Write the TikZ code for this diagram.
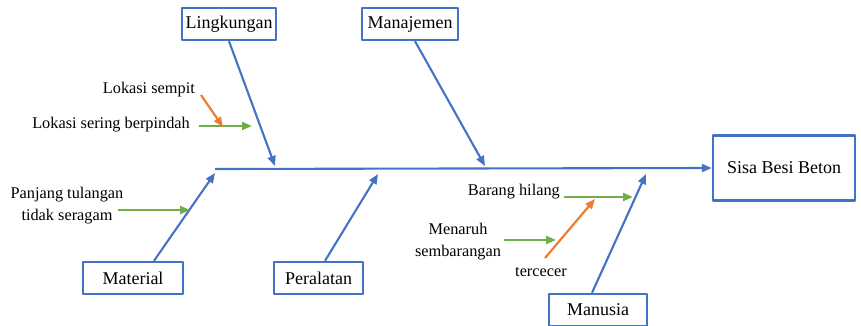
\documentclass[tikz,border=0pt]{standalone}
\usepackage{fontspec}
\setmainfont{Liberation Serif}
\usetikzlibrary{arrows.meta}
\definecolor{fishblue}{RGB}{68,114,196}
\definecolor{subgreen}{RGB}{112,173,71}
\definecolor{suborange}{RGB}{237,125,49}
\begin{document}
\begin{tikzpicture}[x=1pt,y=-1pt, font=\fontsize{16.3}{22}\selectfont, >={Triangle[length=10pt,width=8pt]}, line join=round,
	kategori/.style={draw=fishblue, line width=2.4pt, minimum height=32pt, inner sep=0pt, font=\fontsize{18}{20}\selectfont},
	tulang/.style={->, draw=fishblue, line width=2.1pt},
	sebab/.style={->, draw=subgreen, line width=2.2pt},
	subsebab/.style={->, draw=suborange, line width=2.2pt}]
	\useasboundingbox (0,0) rectangle (861,326);
	% kategori
	\node[kategori, minimum width=94pt] (ling) at (229,24) {Lingkungan};
	\node[kategori, minimum width=96pt] (manaj) at (410,24) {Manajemen};
	\node[kategori, minimum width=100pt] (mat) at (133,278) {Material};
	\node[kategori, minimum width=89pt] (peral) at (318.5,278) {Peralatan};
	\node[kategori, minimum width=98pt] (manus) at (598,310) {Manusia};
	\node[kategori, minimum width=142pt, minimum height=65pt] (sisa) at (784,168) {Sisa Besi Beton};
	% titik pada tulang
	\path
	(215,169) coordinate (ekor)
	(275,166) coordinate (L)
	(485,166) coordinate (M)
	(215,173) coordinate (Ma)
	(378,174) coordinate (P)
	(646,174) coordinate (Mn)
	(199,126) coordinate (lsb0) (252,126) coordinate (lsb1)
	(201,95) coordinate (ls0) (223,127) coordinate (ls1)
	(118,210) coordinate (pt0) (190,210) coordinate (pt1)
	(564,197) coordinate (bh0) (633,197) coordinate (bh1)
	(504,240) coordinate (ms0) (556,240) coordinate (ms1)
	(545,258) coordinate (tc0) (595,199) coordinate (tc1)
	;
	% tulang utama
	\draw[tulang] (ekor) -- (sisa.west);
	\draw[tulang] (ling.south) -- (L);
	\draw[tulang] ([xshift=5pt]manaj.south) -- (M);
	\draw[tulang] ([xshift=21pt]mat.north) -- (Ma);
	\draw[tulang] ([xshift=6.5pt]peral.north) -- (P);
	\draw[tulang] ([xshift=-6pt]manus.north) -- (Mn);
	% sebab
	\node[anchor=east, inner sep=0pt] (lsempit) at (195,90) {Lokasi sempit};
	\node[anchor=east, inner sep=0pt] (lsering) at (190,125) {Lokasi sering berpindah};
	\node[align=center, inner sep=0pt] (panjang) at (67,206) {Panjang tulangan\\tidak seragam};
	\node[anchor=east, inner sep=0pt] (barang) at (560,192) {Barang hilang};
	\node[align=center, inner sep=0pt] (menaruh) at (458,242) {Menaruh\\sembarangan};
	\node[inner sep=0pt] (tercecer) at (541,272) {tercecer};
	\draw[sebab] (lsb0) -- (lsb1);
	\draw[subsebab] (ls0) -- (ls1);
	\draw[sebab] (pt0) -- (pt1);
	\draw[sebab] (bh0) -- (bh1);
	\draw[sebab] (ms0) -- (ms1);
	\draw[subsebab] (tc0) -- (tc1);
\end{tikzpicture}
\end{document}
